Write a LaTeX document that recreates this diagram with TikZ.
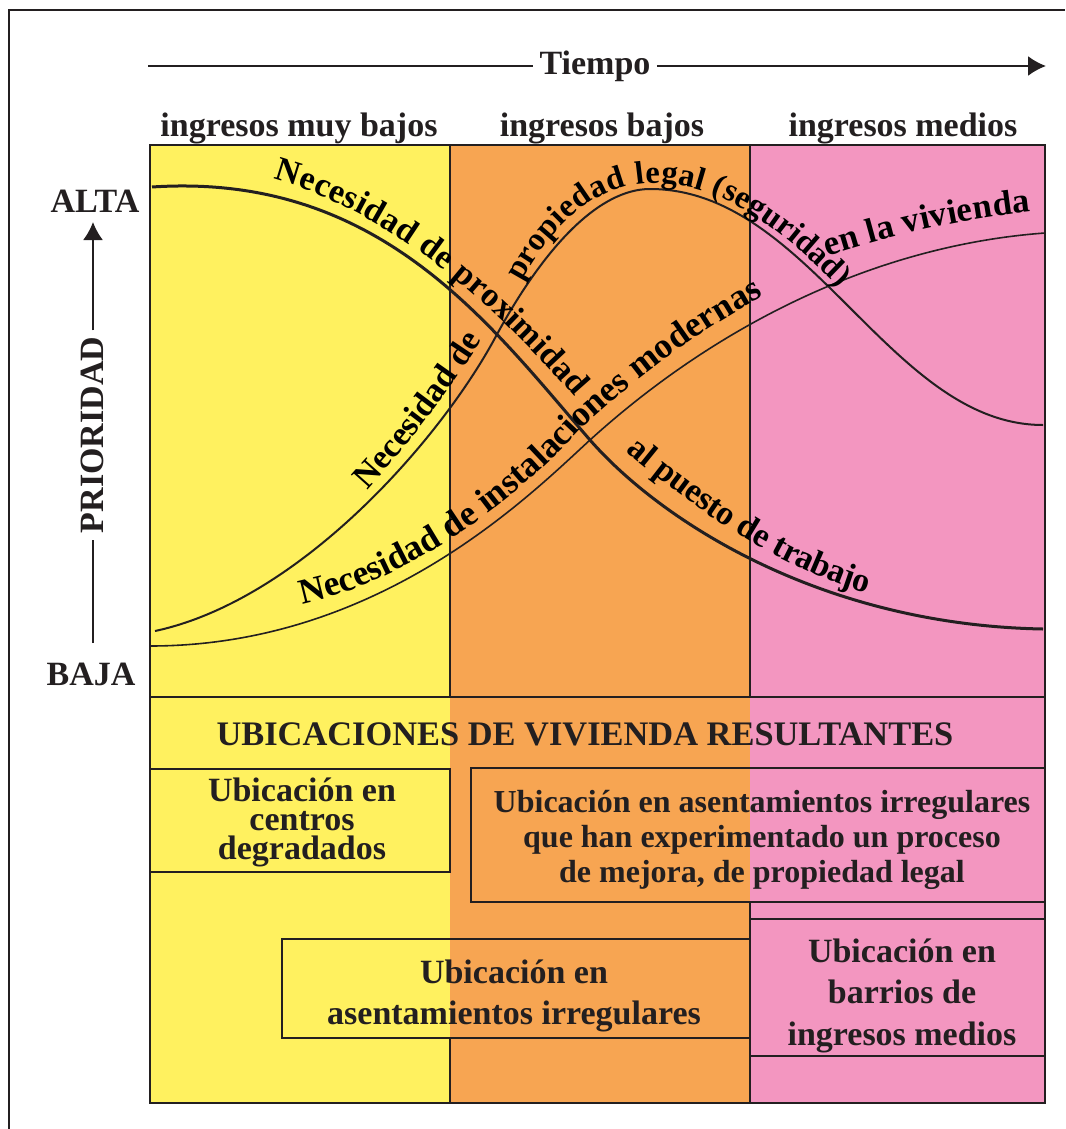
\documentclass[tikz,border=0pt]{standalone}
\usepackage{fontspec}
\setmainfont{Liberation Serif}
\usepackage{tikz}
\usetikzlibrary{positioning, arrows.meta, decorations.text}

\definecolor{muybajo}{RGB}{255,241,95}
\definecolor{bajo}{RGB}{247,165,82}
\definecolor{medio}{RGB}{243,150,192}
\definecolor{tinta}{RGB}{35,31,32}

\begin{document}
\begin{tikzpicture}[
    x=0.5pt, y=0.5pt,
    >={Latex[length=9pt, width=10pt]},
    title/.style={font=\fontsize{17}{20}\selectfont\bfseries, text=tinta, inner sep=0pt, anchor=base},
    frame/.style={draw=tinta, line width=1.2pt},
    divider/.style={draw=tinta, line width=0.8pt},
    resbox/.style={draw=tinta, line width=1.2pt, inner sep=0pt},
    boxtext/.style={align=center, inner sep=0pt, text=tinta},
    need/.style={draw=tinta, line width=1pt},
    curvelabel/.style={decorate, decoration={text along path, raise=#1}}]

    \useasboundingbox (0,0) rectangle (1065,-1129);
    \draw[line width=1.3pt, tinta] (9,-1129) -- (9,-10) -- (1065,-10);

    %%% columns
    \fill[muybajo] (150,-145) rectangle (450,-1103);
    \fill[bajo] (450,-145) rectangle (750,-1103);
    \fill[medio] (750,-145) rectangle (1045,-1103);
    \draw[divider] (450,-145) -- (450,-697);
    \draw[divider] (750,-145) -- (750,-697);
    \draw[divider] (450,-1038) -- (450,-1103);
    \draw[divider] (750,-902) -- (750,-1103);
    \draw[frame] (150,-697) -- (1045,-697);
    \draw[frame] (150,-145) rectangle (1045,-1103);

    %%% axes
    \node[title, inner xsep=3pt] (tiempo) at (595,-75) {Tiempo};
    \coordinate (t0) at (148,-66);
    \coordinate (t1) at (1046,-66);
    \draw[line width=1pt, tinta] (t0) -- (t0 -| tiempo.west);
    \draw[->, line width=1pt, tinta] (t0 -| tiempo.east) -- (t1);

    \node[title] (alta) at (95,-212) {ALTA};
    \node[title] (baja) at (91,-685) {BAJA};
    \node[title, rotate=90, inner xsep=3pt] (prio) at (103,-435) {PRIORIDAD};
    \coordinate (a0) at (93,-643);
    \coordinate (a1) at (93,-222);
    \draw[line width=1pt, tinta] (a0) -- (a0 |- prio.west);
    \draw[->, line width=1pt, tinta] (a0 |- prio.east) -- (a1);

    \node[title] (hdr1) at (299,-136) {ingresos muy bajos};
    \node[title] (hdr2) at (602,-136) {ingresos bajos};
    \node[title] (hdr3) at (903,-136) {ingresos medios};

    %%% curves
    \draw[need, line width=1.5pt] (152,-187) .. controls (380,-172) and (490,-325) .. (590,-440) .. controls (660,-520) and (820,-625) .. (1043,-629);
    \draw[need] (155,-631) .. controls (300,-600) and (440,-440) .. (495,-338) .. controls (545,-245) and (600,-189) .. (650,-189) .. controls (810,-189) and (890,-425) .. (1043,-425);
    \draw[need, line width=0.8pt] (150,-646) .. controls (380,-646) and (530,-495) .. (590,-440) .. controls (720,-322) and (880,-245) .. (1045,-233);

    %%% texts along the curves
    \begin{scope}
    \fontsize{17}{17}\selectfont
    \path[curvelabel=8pt, decoration={text align=center, text={|\bfseries|Necesidad de proximidad}}] (250,-190) .. controls (370,-215) and (480,-310) .. (575,-422);
    \path[curvelabel=8pt, decoration={text align=center, text={|\bfseries|al puesto de trabajo}}] (590,-442) .. controls (690,-530) and (795,-598) .. (895,-616);
    \path[curvelabel=4pt, decoration={text align=center, text={|\bfseries|Necesidad de}}] (352,-518) .. controls (400,-470) and (455,-400) .. (505,-318);
    \path[curvelabel=3pt, decoration={text={|\fontsize{16.2}{16.2}\selectfont\bfseries|propiedad legal (seguridad)}}] (527,-285) .. controls (562,-220) and (605,-189) .. (655,-189) .. controls (730,-189) and (800,-250) .. (880,-340);
    \path[curvelabel=1pt, decoration={text align={left indent=3pt}, text={|\fontsize{17.8}{17.8}\selectfont\bfseries|Necesidad de instalaciones modernas}}] (297,-607) .. controls (390,-590) and (500,-520) .. (582,-431) .. controls (650,-368) and (720,-318) .. (800,-280);
    \path[curvelabel=11pt, decoration={text align={left indent=3pt}, text={|\fontsize{17.4}{17.4}\selectfont\bfseries|en la vivienda}}] (828,-279) .. controls (895,-257) and (965,-240) .. (1050,-232);
    \end{scope}

    %%% resulting locations
    \node[title, font=\fontsize{17.2}{20}\selectfont\bfseries] (ubic) at (585,-745) {UBICACIONES DE VIVIENDA RESULTANTES};

    \node[resbox, minimum width=150pt, minimum height=51.5pt] (degradados) at (300,-820.5) {};
    \node[resbox, minimum width=287pt, minimum height=67pt] (mejorados) at (758,-835) {};
    \node[resbox, minimum width=234pt, minimum height=49.5pt] (irregulares) at (516,-988.5) {};
    \node[resbox, minimum width=147.5pt, minimum height=68.5pt] (barrios) at (897.5,-987.5) {};

    \node[boxtext, font=\fontsize{17}{14.5}\selectfont\bfseries] (degradados-txt) at (302,-822.5) {Ubicación en\\centros\\degradados};
    \node[boxtext, font=\fontsize{16}{17.5}\selectfont\bfseries] (mejorados-txt) at (762,-839.5) {Ubicación en asentamientos irregulares\\que han experimentado un proceso\\de mejora, de propiedad legal};
    \node[boxtext, font=\fontsize{17}{20.5}\selectfont\bfseries] (irregulares-txt) at (514,-995.5) {Ubicación en\\asentamientos irregulares};
    \node[boxtext, font=\fontsize{17}{20.75}\selectfont\bfseries] (barrios-txt) at (902,-995.5) {Ubicación en\\barrios de\\ingresos medios};

\end{tikzpicture}
\end{document}
